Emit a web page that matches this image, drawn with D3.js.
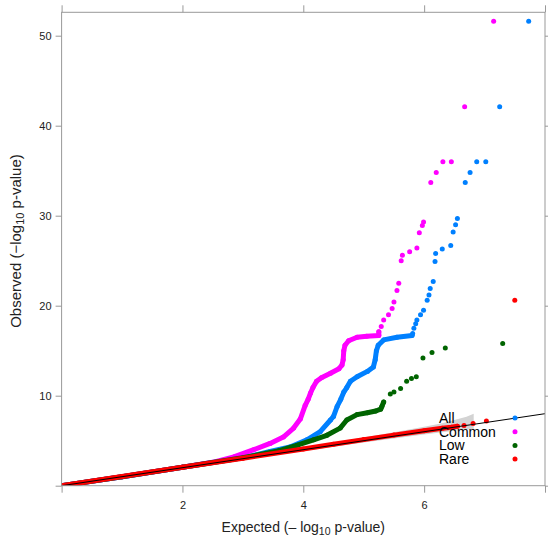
<!DOCTYPE html>
<html><head><meta charset="utf-8">
<script src="https://cdn.jsdelivr.net/npm/d3@7"></script>
<style>
body{margin:0;background:#fff;}
svg{display:block;font-family:"Liberation Sans",Arial,sans-serif;}
</style></head>
<body>
<svg id="chart" width="548" height="542"></svg>
<script>
// ---- data ----
const seriesNames = ["All", "Common", "Low", "Rare"];
const seriesColors = ["#0080ff", "#ff00ff", "#006400", "#ff0000"];
const denseUntil = [5.80, 5.25, 5.33, 6.55]; // expected value up to which points form a continuous run

const allPts = [[0,0],[1,1.0],[2,2.05],[3,3.1],[3.45,3.8],[3.78,4.3],[4.06,5.1],[4.28,6.0],[4.45,7.3],[4.50,7.7],[4.56,8.8],[4.62,9.6],[4.67,10.4],[4.72,10.9],[4.78,11.6],[4.89,12.1],[5.06,12.7],[5.16,13.2],[5.19,14.0],[5.21,15.0],[5.24,15.6],[5.33,16.2],[5.55,16.5],[5.80,16.7],[5.81,16.9],[5.83,17.5],[5.86,18.0],[5.88,18.4],[5.94,19.0],[5.99,19.5],[6.05,20.6],[6.08,21.2],[6.10,21.9],[6.15,22.7],[6.18,24.9],[6.19,25.8],[6.30,26.3],[6.44,26.7],[6.48,28.2],[6.52,29.0],[6.55,29.7],[6.68,33.7],[6.76,34.8],[6.87,36.0],[7.02,36.0],[7.25,42.1],[7.73,51.6]];
const commonPts = [[0,0],[1,1.0],[2,2.05],[2.5,2.6],[2.85,3.2],[3.18,4.0],[3.45,4.7],[3.67,5.4],[3.84,6.4],[3.95,7.4],[4.03,8.9],[4.08,9.6],[4.12,10.3],[4.16,10.9],[4.22,11.6],[4.30,12.0],[4.45,12.5],[4.59,13.0],[4.64,13.4],[4.66,14.0],[4.67,15.0],[4.69,15.6],[4.75,16.1],[4.89,16.5],[5.05,16.6],[5.25,16.7],[5.25,17.1],[5.29,17.7],[5.33,18.4],[5.41,19.0],[5.47,19.7],[5.50,20.4],[5.55,21.7],[5.58,22.5],[5.62,25.0],[5.64,25.6],[5.76,26.0],[5.88,26.4],[5.92,28.1],[5.97,28.9],[5.99,29.3],[6.11,33.7],[6.20,34.8],[6.31,36.0],[6.45,36.0],[6.67,42.1],[7.15,51.6]];
const lowPts = [[0,0],[1,1.0],[2,2.05],[3,3.1],[3.6,3.9],[3.90,4.5],[4.17,5.1],[4.39,5.6],[4.61,6.4],[4.72,7.3],[4.89,7.9],[5.06,8.1],[5.20,8.3],[5.28,8.5],[5.30,8.8],[5.33,9.3],[5.44,10.2],[5.50,10.4],[5.61,10.8],[5.71,11.6],[5.79,11.9],[5.87,12.1],[5.98,14.2],[6.13,14.8],[6.35,15.3],[7.30,15.8]];
const rarePts = [[0,0],[1,1.02],[2,2.04],[3,3.06],[4,4.08],[4.5,4.6],[5,5.12],[5.5,5.62],[6,6.1],[6.3,6.38],[6.45,6.5],[6.55,6.6],[6.66,6.7],[6.81,6.9],[7.03,7.2],[7.5,20.6]];
const seriesPts = [allPts, commonPts, lowPts, rarePts];

// confidence band (expected, lower, upper)
const bandX     = [0, 2, 3, 4, 5, 5.5, 6, 6.3, 6.5, 6.7, 6.82];
const bandLower = [0, 1.95, 2.9, 3.85, 4.8, 5.25, 5.7, 5.95, 6.1, 6.25, 6.3];
const bandUpper = [0, 2.1, 3.15, 4.25, 5.35, 5.95, 6.55, 6.95, 7.3, 7.65, 8.0];

const xTicks = [0, 2, 4, 6, 8];
const xTickLabels = ["", "2", "4", "6", ""];
const yTicks = [0, 10, 20, 30, 40, 50];
const yTickLabels = ["", "10", "20", "30", "40", "50"];
const xDomain = [0, 8];
const yDomain = [0, 52.6];
const refLine = [[0,0],[8,8]];

// ---- drawing ----
const svg = d3.select("#chart");
const L = 61.6, R = 545, T = 12.3, B = 485.7;
const x = d3.scaleLinear().domain(xDomain).range([L, R]);
const y = d3.scaleLinear().domain(yDomain).range([B, T]);
const axisColor = "#999";

svg.append("clipPath").attr("id","clip").append("rect")
  .attr("x", L).attr("y", T).attr("width", R-L).attr("height", B-T);
const plot = svg.append("g").attr("clip-path","url(#clip)");

// band
const bandData = bandX.map((v,i)=>({x:v, lo:bandLower[i], hi:bandUpper[i]}));
plot.append("path").datum(bandData)
  .attr("fill","#d3d3d3")
  .attr("d", d3.area().x(d=>x(d.x)).y0(d=>y(d.lo)).y1(d=>y(d.hi)));

// series
seriesPts.forEach((pts, si) => {
  const col = seriesColors[si];
  const dense = pts.filter(p => p[0] <= denseUntil[si]);
  plot.append("path").datum(dense)
    .attr("fill","none").attr("stroke",col).attr("stroke-width",5)
    .attr("stroke-linecap","round").attr("stroke-linejoin","round")
    .attr("d", d3.line().x(d=>x(d[0])).y(d=>y(d[1])));
  plot.selectAll(null).data(pts).enter().append("circle")
    .attr("cx", d=>x(d[0])).attr("cy", d=>y(d[1])).attr("r", 2.5)
    .attr("fill", col);
});

// reference line
plot.append("path").datum(refLine)
  .attr("stroke","#000").attr("stroke-width",1).attr("fill","none")
  .attr("d", d3.line().x(d=>x(d[0])).y(d=>y(d[1])));

// axes
function styleAxis(g){
  g.select(".domain").remove();
  g.selectAll(".tick line").attr("stroke", axisColor);
  g.selectAll(".tick text").attr("fill","#222").style("font-size","11px")
    .style("font-family",'"Liberation Sans",Arial,sans-serif');
}
svg.append("g").attr("transform",`translate(0,${B})`)
  .call(d3.axisBottom(x).tickValues(xTicks).tickSize(7).tickPadding(9)
    .tickFormat((d,i)=>xTickLabels[i])).call(styleAxis);
svg.append("g").attr("transform",`translate(0,${T})`)
  .call(d3.axisTop(x).tickValues(xTicks).tickSize(7).tickFormat(()=>"")).call(styleAxis);
svg.append("g").attr("transform",`translate(${L},0)`)
  .call(d3.axisLeft(y).tickValues(yTicks).tickSize(6).tickPadding(4)
    .tickFormat((d,i)=>yTickLabels[i])).call(styleAxis);
svg.append("g").attr("transform",`translate(${R},0)`)
  .call(d3.axisRight(y).tickValues(yTicks).tickSize(6).tickFormat(()=>"")).call(styleAxis);

svg.append("rect").attr("x",L).attr("y",T).attr("width",R-L).attr("height",B-T)
  .attr("fill","none").attr("stroke",axisColor).attr("stroke-width",1);

// legend
const lg = svg.append("g");
seriesNames.forEach((n,i)=>{
  const cy = 418 + i*13.7;
  lg.append("text").attr("x",439).attr("y",cy).attr("dy","0.35em")
    .style("font-size","14px").attr("fill","#000").text(n);
  lg.append("circle").attr("cx",515).attr("cy",cy).attr("r",2.5).attr("fill",seriesColors[i]);
});

// axis titles
const xt = svg.append("text").attr("x",(L+R)/2).attr("y",532).attr("text-anchor","middle")
  .style("font-size","14px").attr("fill","#222");
xt.append("tspan").text("Expected (\u2013 log");
xt.append("tspan").attr("dy",3).style("font-size","10.5px").text("10");
xt.append("tspan").attr("dy",-3).text(" p-value)");

const yt = svg.append("text").attr("transform",`translate(21,241) rotate(-90)`)
  .attr("text-anchor","middle").style("font-size","15px").attr("fill","#222");
yt.append("tspan").text("Observed (\u2212log");
yt.append("tspan").attr("dy",3).style("font-size","11px").text("10");
yt.append("tspan").attr("dy",-3).text(" p-value)");
</script>
</body></html>
